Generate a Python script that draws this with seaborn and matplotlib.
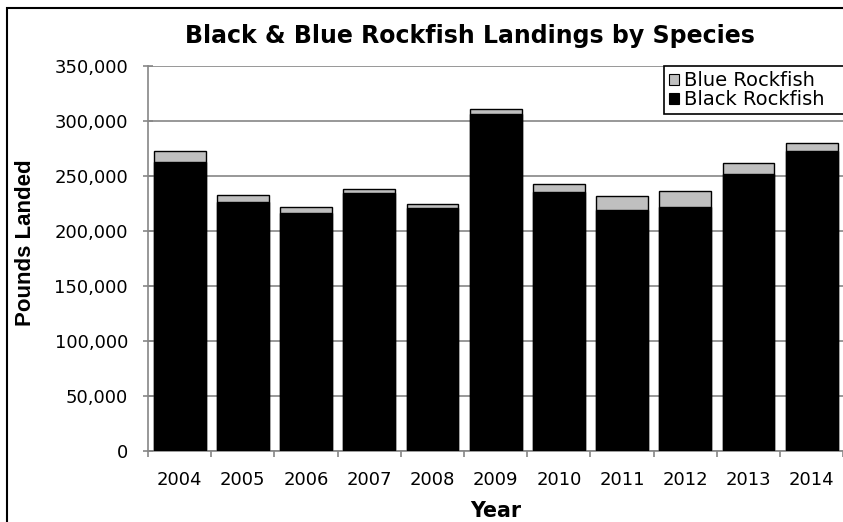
import matplotlib
matplotlib.use("Agg")
import matplotlib.pyplot as plt
from matplotlib.patches import Patch, Rectangle
from matplotlib.ticker import FixedLocator, FuncFormatter
import pandas as pd
import seaborn as sns

# Annual landings (pounds) by species
years = [2004, 2005, 2006, 2007, 2008, 2009, 2010, 2011, 2012, 2013, 2014]
black_rockfish = [262000, 225700, 215700, 233900, 220600, 305700,
                  235200, 218500, 221800, 251500, 272100]
blue_rockfish = [10300, 6700, 5800, 4300, 3300, 4600,
                 6900, 12700, 14300, 10300, 7300]
y_tick_values = [0, 50000, 100000, 150000, 200000, 250000, 300000, 350000]

BLUE_FILL = "#BFBFBF"
AXIS_GRAY = "#868686"

sns.set_theme(style="white")
plt.rcParams["font.family"] = ["DejaVu Sans"]
plt.rcParams["text.color"] = "black"

W, H = 843, 522
fig = plt.figure(figsize=(W / 100, H / 100), dpi=100)
fig.patch.set_facecolor("white")
ax = fig.add_axes([148 / W, (H - 450.7) / H, (843.3 - 148) / W, 385 / H])

df = pd.DataFrame({
    "Year": [str(y) for y in years],
    "Black": black_rockfish,
    "Blue": blue_rockfish,
})
df["Total"] = df["Black"] + df["Blue"]

# Stacked bars: full height in grey (blue rockfish on top), black portion over it
sns.barplot(data=df, x="Year", y="Total", color=BLUE_FILL, saturation=1,
            edgecolor="black", linewidth=1.0, width=0.82, ax=ax, zorder=2)
sns.barplot(data=df, x="Year", y="Black", color="black", saturation=1,
            edgecolor="black", linewidth=1.0, width=0.82, ax=ax, zorder=3)

ax.set_xlim(-0.5, len(years) - 0.5)
ax.set_ylim(0, 350000)
ax.yaxis.set_major_locator(FixedLocator(y_tick_values))
ax.yaxis.set_major_formatter(FuncFormatter(lambda v, _: f"{int(v):,}"))
ax.xaxis.set_minor_locator(FixedLocator([i - 0.5 for i in range(len(years) + 1)]))

ax.set_axisbelow(True)
ax.grid(axis="y", color=AXIS_GRAY, linewidth=1.2)
ax.grid(axis="x", visible=False)
for side in ("top", "right"):
    ax.spines[side].set_visible(False)
for side in ("left", "bottom"):
    ax.spines[side].set_color(AXIS_GRAY)
    ax.spines[side].set_linewidth(1.2)

ax.tick_params(axis="y", which="major", direction="inout", length=7.2,
               width=1.2, color=AXIS_GRAY, pad=10.8, labelsize=13,
               labelcolor="black", left=True)
ax.tick_params(axis="x", which="major", length=0, pad=14.4, labelsize=13,
               labelcolor="black")
ax.tick_params(axis="x", which="minor", direction="out", length=4.5,
               width=1.2, color=AXIS_GRAY, bottom=True)

ax.set_xlabel("Year", fontsize=14.8, fontweight="bold", color="black")
ax.xaxis.label.set_va("baseline")
ax.xaxis.set_label_coords(496 / W, (H - 517) / H, transform=fig.transFigure)

ax.set_ylabel("Pounds Landed", fontsize=16, fontweight="bold", color="black",
              family=["Liberation Sans", "DejaVu Sans"])
ax.yaxis.label.set_va("center")
ax.yaxis.set_label_coords(26 / W, (H - 242.5) / H, transform=fig.transFigure)

fig.text(470 / W, (H - 43.3) / H, "Black & Blue Rockfish Landings by Species",
         ha="center", va="baseline", fontsize=17, fontweight="bold",
         color="black")

handles = [
    Patch(facecolor=BLUE_FILL, edgecolor="black", linewidth=0.8, label="Blue Rockfish"),
    Patch(facecolor="black", edgecolor="black", linewidth=0.8, label="Black Rockfish"),
]
leg = ax.legend(handles=handles, loc="upper left",
                bbox_to_anchor=(664 / W, (H - 116) / H, 0.3, 50 / H),
                bbox_transform=fig.transFigure, mode="expand",
                borderaxespad=0, frameon=True, fancybox=False,
                framealpha=1, fontsize=14, handlelength=0.5,
                handleheight=0.5, handletextpad=0.25, labelspacing=0.0,
                borderpad=0.26, labelcolor="black")
leg.get_frame().set_edgecolor("black")
leg.get_frame().set_linewidth(1.2)

# Outer chart border (open towards the right and bottom edges)
fig.add_artist(Rectangle((7 / W, -0.1), 1.2, (H - 8) / H + 0.1,
                         transform=fig.transFigure, fill=False,
                         edgecolor="black", linewidth=1.5))

fig.savefig("out.png", dpi=100)
